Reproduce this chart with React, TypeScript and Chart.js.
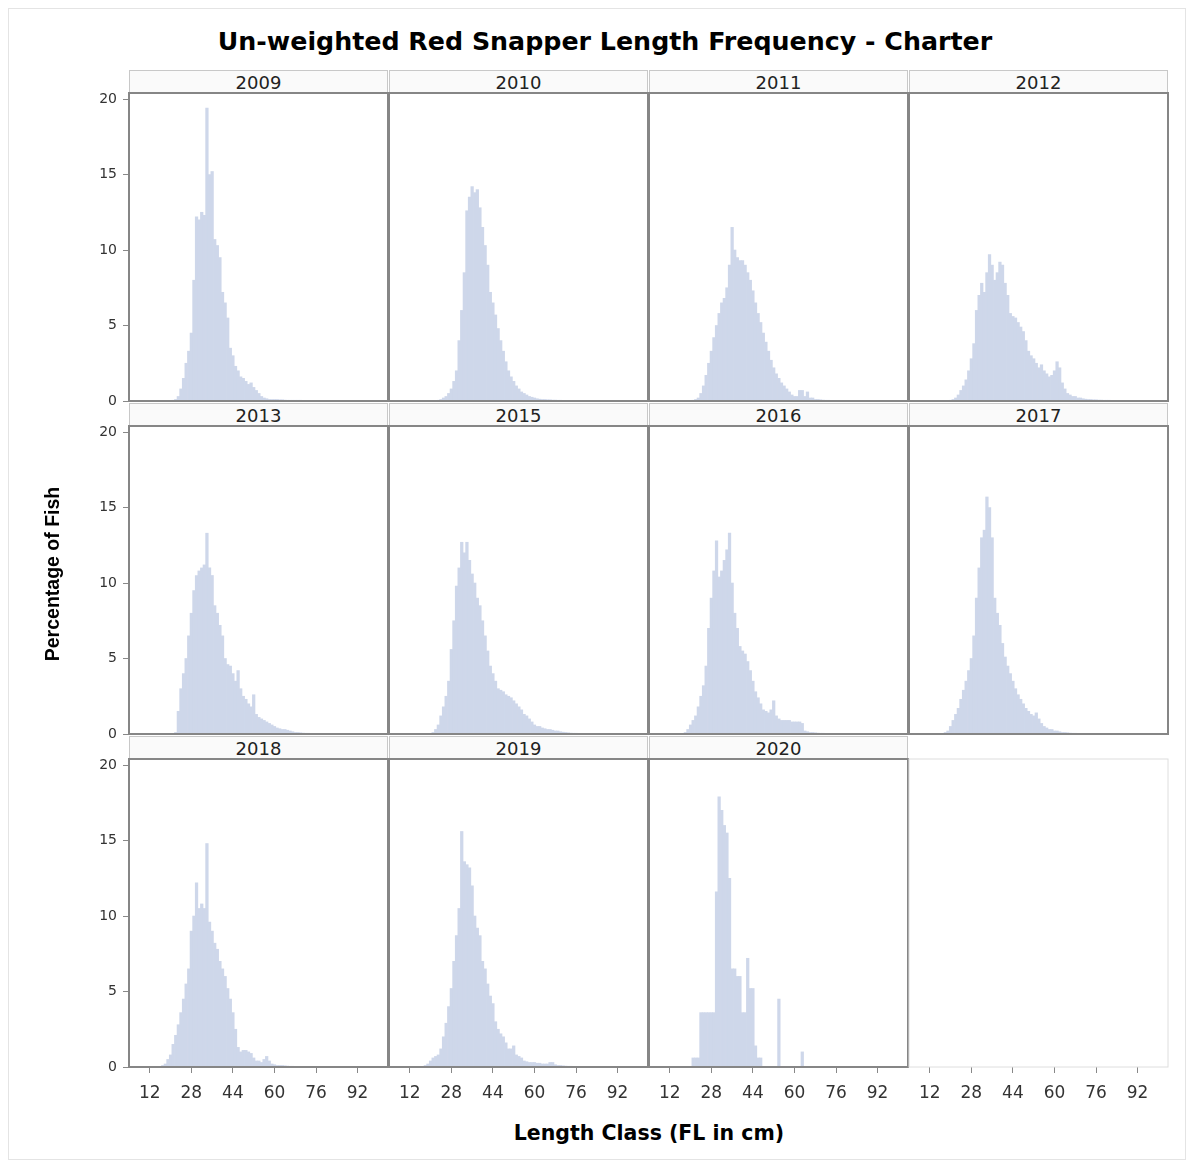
import React, { useEffect, useRef } from 'react';
import { Chart, registerables } from 'chart.js';

Chart.register(...registerables);

const TITLE = 'Un-weighted Red Snapper Length Frequency - Charter';
const Y_TITLE = 'Percentage of Fish';
const X_TITLE = 'Length Class (FL in cm)';

const YEARS = ['2009', '2010', '2011', '2012', '2013', '2015', '2016', '2017', '2018', '2019', '2020'];
// first length class (cm) of each year's series
const START_LENGTHS = [21, 23, 21, 20, 22, 21, 18, 18, 17, 18, 21];

const PCT_2009 = [0.05, 0.1, 0.3, 0.8, 1.5, 2.5, 3.3, 4.5, 8.0, 12.2, 12.0, 12.5, 12.3, 19.4, 15.0, 15.2, 10.7, 10.3, 9.5, 7.2, 6.5, 5.5, 3.5, 3.0, 2.3, 2.0, 1.6, 1.5, 1.3, 1.1, 1.2, 0.9, 0.7, 0.5, 0.3, 0.2, 0.15, 0.1, 0.1, 0.1, 0.1, 0.08, 0.08, 0.06, 0.05, 0.05, 0.05, 0.05, 0.05, 0.05, 0.04, 0.04];
const PCT_2010 = [0.05, 0.1, 0.2, 0.3, 0.5, 0.8, 1.3, 2.0, 4.0, 6.0, 8.5, 12.6, 13.5, 14.2, 13.8, 14.0, 12.8, 11.5, 10.3, 9.0, 7.2, 6.5, 5.7, 4.8, 4.0, 3.3, 2.6, 2.0, 1.6, 1.3, 1.0, 0.8, 0.6, 0.5, 0.4, 0.3, 0.25, 0.2, 0.15, 0.12, 0.1, 0.1, 0.08, 0.08, 0.06, 0.06, 0.05, 0.05, 0.04, 0.04, 0.04];
const PCT_2011 = [0.05, 0.1, 0.2, 0.5, 1.0, 1.7, 2.5, 3.3, 4.2, 5.0, 5.8, 6.5, 6.8, 7.5, 9.0, 11.5, 10.0, 9.5, 9.3, 9.3, 9.0, 8.5, 8.0, 7.3, 6.5, 5.8, 5.2, 4.5, 3.9, 3.3, 2.7, 2.2, 1.8, 1.5, 1.2, 1.0, 0.8, 0.6, 0.4, 0.3, 0.3, 0.7, 0.7, 0.3, 0.6, 0.2, 0.2, 0.1, 0.1, 0.08, 0.06, 0.05, 0.05, 0.04, 0.04];
const PCT_2012 = [0.05, 0.1, 0.2, 0.4, 0.7, 1.0, 1.4, 2.0, 2.8, 3.8, 6.0, 7.0, 7.8, 7.2, 8.5, 9.7, 9.0, 8.0, 8.5, 9.2, 9.0, 7.8, 7.0, 5.8, 5.6, 5.5, 5.2, 4.9, 4.6, 4.0, 3.3, 3.0, 2.8, 2.5, 2.2, 2.4, 2.0, 1.8, 1.6, 1.7, 2.0, 2.6, 2.2, 1.2, 0.8, 0.5, 0.4, 0.3, 0.3, 0.2, 0.2, 0.15, 0.12, 0.1, 0.1, 0.08, 0.08, 0.06, 0.06, 0.05, 0.05, 0.05, 0.04, 0.04, 0.04, 0.03];
const PCT_2013 = [0.1, 1.5, 3.0, 4.0, 5.0, 6.5, 8.0, 9.5, 10.5, 10.8, 11.0, 11.2, 13.3, 11.0, 10.5, 8.5, 8.0, 7.2, 6.5, 5.0, 4.6, 4.5, 4.0, 3.5, 4.2, 3.0, 2.5, 2.3, 2.0, 1.8, 2.6, 1.3, 1.1, 1.0, 0.9, 0.8, 0.7, 0.6, 0.5, 0.4, 0.35, 0.3, 0.3, 0.25, 0.2, 0.15, 0.1, 0.1, 0.08, 0.06, 0.05, 0.05];
const PCT_2015 = [0.1, 0.3, 0.6, 1.2, 1.8, 2.5, 3.5, 5.6, 7.5, 9.8, 11.0, 12.7, 12.0, 12.7, 11.5, 10.6, 10.0, 9.0, 8.5, 7.5, 6.5, 5.5, 4.5, 4.0, 3.5, 3.0, 2.9, 2.8, 2.6, 2.5, 2.4, 2.2, 2.0, 1.8, 1.6, 1.3, 1.2, 1.0, 0.8, 0.6, 0.5, 0.5, 0.4, 0.35, 0.3, 0.3, 0.25, 0.2, 0.2, 0.15, 0.12, 0.1, 0.08, 0.06, 0.05, 0.05];
const PCT_2016 = [0.1, 0.3, 0.6, 0.9, 1.2, 1.8, 2.5, 3.2, 4.5, 7.0, 9.0, 10.8, 12.8, 10.4, 10.8, 11.5, 12.2, 13.3, 10.0, 8.0, 7.0, 5.8, 5.5, 5.3, 4.8, 4.2, 3.5, 2.8, 2.4, 2.0, 1.6, 1.5, 1.4, 1.6, 2.2, 1.2, 1.0, 0.9, 0.9, 0.9, 0.9, 0.8, 0.8, 0.8, 0.8, 0.7, 0.2, 0.15, 0.1, 0.1, 0.08, 0.06, 0.05, 0.05, 0.04];
const PCT_2017 = [0.1, 0.2, 0.5, 0.9, 1.3, 1.7, 2.3, 2.9, 3.5, 4.2, 5.0, 6.5, 9.0, 11.0, 13.0, 13.5, 15.7, 15.0, 13.0, 9.0, 8.0, 7.2, 6.0, 5.1, 4.5, 4.0, 3.5, 3.0, 2.6, 2.3, 2.0, 1.7, 1.5, 1.3, 1.2, 1.4, 1.0, 0.7, 0.5, 0.4, 0.3, 0.3, 0.2, 0.2, 0.15, 0.1, 0.1, 0.08, 0.06, 0.05, 0.05, 0.04, 0.04];
const PCT_2018 = [0.1, 0.2, 0.5, 0.8, 1.5, 2.1, 2.8, 3.6, 4.5, 5.5, 6.5, 9.0, 10.0, 12.2, 10.5, 10.8, 10.5, 14.8, 9.6, 9.0, 8.2, 7.8, 7.0, 6.5, 6.0, 5.2, 4.5, 3.6, 2.5, 1.3, 1.0, 1.1, 1.1, 1.0, 0.9, 0.6, 0.4, 0.4, 0.3, 0.5, 0.7, 0.4, 0.2, 0.15, 0.1, 0.1, 0.1, 0.08, 0.06, 0.05, 0.05, 0.04, 0.04, 0.04];
const PCT_2019 = [0.1, 0.2, 0.4, 0.6, 0.7, 0.8, 1.2, 2.0, 2.9, 4.0, 5.2, 7.0, 8.7, 10.5, 15.6, 13.6, 13.4, 13.2, 12.0, 10.0, 9.2, 8.7, 7.0, 6.5, 5.5, 4.7, 4.2, 3.0, 2.5, 2.2, 2.0, 1.6, 1.2, 1.2, 1.4, 0.8, 0.7, 0.6, 0.4, 0.35, 0.3, 0.3, 0.3, 0.25, 0.25, 0.2, 0.2, 0.2, 0.3, 0.3, 0.15, 0.1, 0.1, 0.08, 0.06, 0.05, 0.05];
const PCT_2020 = [0.6, 0.6, 0.6, 3.6, 3.6, 3.6, 3.6, 3.6, 3.6, 11.6, 17.9, 17.0, 16.0, 15.5, 12.5, 6.5, 6.5, 6.0, 6.0, 3.6, 3.6, 7.2, 5.2, 5.2, 1.4, 0.6, 0.6, 0, 0, 0, 0, 0, 0, 4.5, 0, 0, 0, 0, 0, 0, 0, 0, 1.0];

const SERIES = [PCT_2009, PCT_2010, PCT_2011, PCT_2012, PCT_2013, PCT_2015, PCT_2016, PCT_2017, PCT_2018, PCT_2019, PCT_2020];

const X_TICKS = [12, 28, 44, 60, 76, 92];
const Y_TICKS = [0, 5, 10, 15, 20];
const X_MIN = 4;
const X_MAX = 103.7;
const Y_MIN = 0;
const Y_MAX = 20.4;

// layout (pixels)
const COL_LEFT = [129, 389, 649, 909];
const ROW_TOP = [93, 426, 759];
const PLOT_W = 259;
const PLOT_H = 308;
const AXIS_W = 80;
const AXIS_H = 50;
const PAD_T = 12;
const PAD_R = 6;
const STRIP_H = 23;

const BAR_COLOR = '#ced7ea';
const FRAME_COLOR = '#868686';
const FONT = "'DejaVu Sans', sans-serif";

Chart.defaults.font.family = FONT;

function framePlugin(active: boolean) {
  return {
    id: 'panelFrame',
    afterDatasetsDraw(chart: any) {
      const { left, top, width, height } = chart.chartArea;
      const ctx = chart.ctx;
      ctx.save();
      ctx.strokeStyle = active ? FRAME_COLOR : '#dedede';
      ctx.lineWidth = active ? 2 : 1;
      ctx.strokeRect(left, top, width, height);
      ctx.restore();
    },
  };
}

function noPad(s: any) {
  s.paddingTop = 0;
  s.paddingBottom = 0;
  s.paddingLeft = 0;
  s.paddingRight = 0;
}

function Panel({ idx }: { idx: number }) {
  const ref = useRef<HTMLCanvasElement>(null);
  const col = idx % 4;
  const row = Math.floor(idx / 4);
  const hasData = idx < YEARS.length;
  const showY = col === 0;
  const showX = row === 2;
  const cw = AXIS_W + PLOT_W + PAD_R;
  const ch = PAD_T + PLOT_H + AXIS_H;

  useEffect(() => {
    const data = hasData
      ? SERIES[idx].map((v, i) => ({ x: START_LENGTHS[idx] + i, y: v }))
      : [];
    const chart = new Chart(ref.current as HTMLCanvasElement, {
      type: 'bar',
      data: {
        datasets: [
          {
            data,
            backgroundColor: BAR_COLOR,
            borderWidth: 0,
            barPercentage: 1,
            categoryPercentage: 1,
          } as any,
        ],
      },
      options: {
        animation: false,
        responsive: false,
        maintainAspectRatio: false,
        devicePixelRatio: 1,
        layout: { autoPadding: false, padding: { left: 0, top: PAD_T, right: PAD_R, bottom: 0 } } as any,
        plugins: { legend: { display: false }, tooltip: { enabled: false }, title: { display: false } },
        scales: {
          x: {
            type: 'linear',
            min: X_MIN,
            max: X_MAX,
            offset: false,
            afterFit: (s: any) => {
              s.height = AXIS_H;
              noPad(s);
            },
            afterBuildTicks: (s: any) => {
              s.ticks = X_TICKS.map((v) => ({ value: v }));
            },
            ticks: { display: showX, color: '#333', font: { size: 17 }, padding: 10, maxRotation: 0, autoSkip: false },
            grid: { display: showX, drawOnChartArea: false, drawTicks: true, tickLength: 6, color: '#888', offset: false },
            border: { display: false },
          },
          y: {
            type: 'linear',
            min: Y_MIN,
            max: Y_MAX,
            afterFit: (s: any) => {
              s.width = AXIS_W;
              noPad(s);
            },
            afterBuildTicks: (s: any) => {
              s.ticks = Y_TICKS.map((v) => ({ value: v }));
            },
            ticks: { display: showY, color: '#333', font: { size: 14 }, padding: 6, autoSkip: false },
            grid: { display: showY, drawOnChartArea: false, drawTicks: true, tickLength: 6, color: '#888' },
            border: { display: false },
          },
        },
      } as any,
      plugins: [framePlugin(hasData)],
    });
    return () => chart.destroy();
  }, []);

  return (
    <canvas
      ref={ref}
      width={cw}
      height={ch}
      style={{ position: 'absolute', left: COL_LEFT[col] - AXIS_W, top: ROW_TOP[row] - PAD_T, width: cw, height: ch }}
    />
  );
}

function Strip({ idx }: { idx: number }) {
  const col = idx % 4;
  const row = Math.floor(idx / 4);
  return (
    <div
      style={{
        position: 'absolute',
        left: COL_LEFT[col],
        top: ROW_TOP[row] - STRIP_H,
        width: PLOT_W,
        height: STRIP_H,
        boxSizing: 'border-box',
        border: '1px solid #c8c8c8',
        borderBottom: 'none',
        background: '#fafafa',
        textAlign: 'center',
        fontFamily: FONT,
        fontSize: 18,
        lineHeight: `${STRIP_H}px`,
        color: '#222',
      }}
    >
      {YEARS[idx]}
    </div>
  );
}

export default function App() {
  const panels = Array.from({ length: 12 }, (_, i) => i);
  return (
    <div
      style={{
        position: 'absolute',
        left: 0,
        top: 0,
        width: 1194,
        height: 1167,
        background: '#fff',
        overflow: 'hidden',
      }}
    >
      <div
        style={{
          position: 'absolute',
          left: 8,
          top: 8,
          width: 1178,
          height: 1152,
          border: '1px solid #e4e4e4',
          boxSizing: 'border-box',
        }}
      />
      <div
        style={{
          position: 'absolute',
          left: 105,
          top: 26,
          width: 1000,
          textAlign: 'center',
          fontFamily: FONT,
          fontWeight: 'bold',
          fontSize: 25.3,
          lineHeight: '32px',
          color: '#000',
        }}
      >
        {TITLE}
      </div>
      {YEARS.map((_, i) => (
        <Strip key={'s' + i} idx={i} />
      ))}
      {panels.map((i) => (
        <Panel key={'p' + i} idx={i} />
      ))}
      <div
        style={{
          position: 'absolute',
          left: 52 - 150,
          top: 574 - 12,
          width: 300,
          height: 24,
          lineHeight: '24px',
          textAlign: 'center',
          transform: 'rotate(-90deg)',
          fontFamily: "'Liberation Sans', Arial, sans-serif",
          fontWeight: 'bold',
          fontSize: 19.5,
          color: '#000',
        }}
      >
        {Y_TITLE}
      </div>
      <div
        style={{
          position: 'absolute',
          left: 649 - 200,
          top: 1133 - 14,
          width: 400,
          height: 28,
          lineHeight: '28px',
          textAlign: 'center',
          fontFamily: FONT,
          fontWeight: 'bold',
          fontSize: 20.5,
          color: '#000',
        }}
      >
        {X_TITLE}
      </div>
    </div>
  );
}
